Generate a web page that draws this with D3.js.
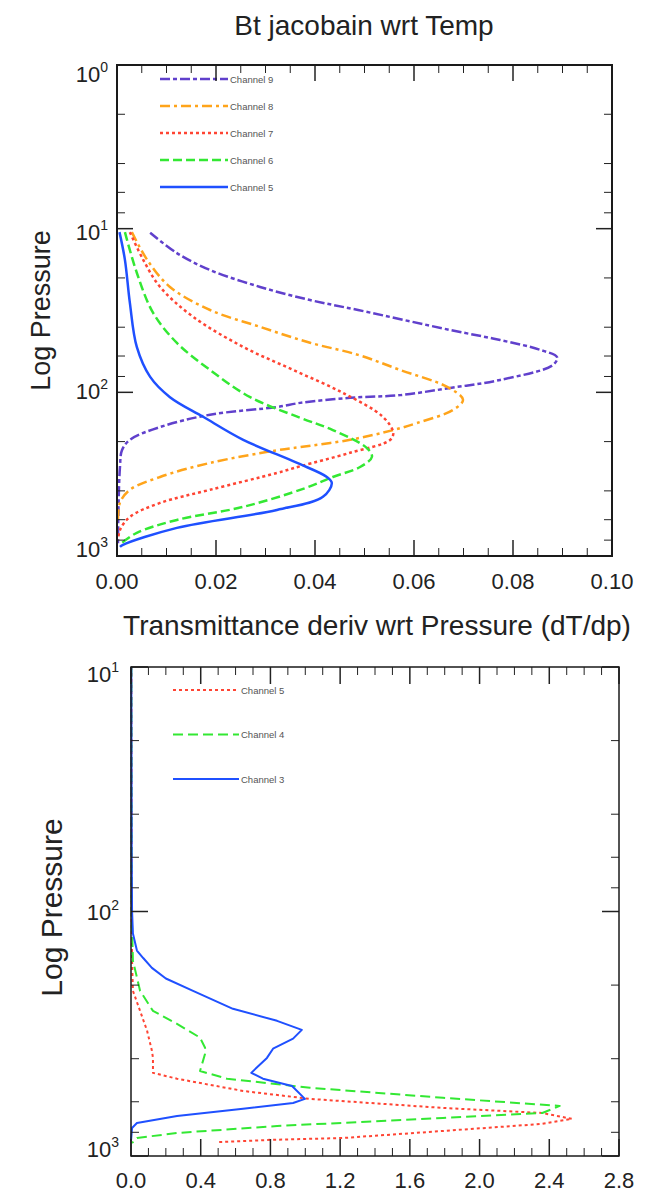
<!DOCTYPE html>
<html>
<head>
<meta charset="utf-8">
<script src="https://cdn.jsdelivr.net/npm/d3@7"></script>
<style>
  html, body { margin: 0; padding: 0; background: #fff; }
  svg { display: block; font-family: "Liberation Sans", Arial, Helvetica, sans-serif; }
</style>
</head>
<body>
<svg id="chart" width="646" height="1192"></svg>
<script>
// ---------- DATA (value, pressure hPa) ----------
const topTitle = "Bt jacobain wrt Temp";
const topXLabel = "Transmittance deriv wrt Pressure (dT/dp)";
const yLabel = "Log Pressure";

const topXTicks = [0, 0.02, 0.04, 0.06, 0.08, 0.10];
const topXTickLabels = ["0.00", "0.02", "0.04", "0.06", "0.08", "0.10"];
const topYTicks = [1, 10, 100, 1000];
const topYExponents = ["0", "1", "2", "3"];

const bottomXTicks = [0, 0.4, 0.8, 1.2, 1.6, 2.0, 2.4, 2.8];
const bottomXTickLabels = ["0.0", "0.4", "0.8", "1.2", "1.6", "2.0", "2.4", "2.8"];
const bottomYTicks = [10, 100, 1000];
const bottomYExponents = ["1", "2", "3"];

const topChannels = ["Channel 9", "Channel 8", "Channel 7", "Channel 6", "Channel 5"];
const bottomChannels = ["Channel 5", "Channel 4", "Channel 3"];

const topCh9 = [[0.0067,10.6],[0.0121,14.1],[0.0188,17.9],[0.0289,22.7],[0.039,27.3],[0.0487,31.4],[0.0673,41.6],[0.0774,47.9],[0.0855,55],[0.0889,61],[0.0881,68],[0.0774,84],[0.0673,94],[0.0572,104],[0.0471,108],[0.037,116],[0.0323,123],[0.0188,137],[0.0087,163],[0.0026,195],[0.001,226],[0.0006,286],[0.0003,500],[0.0002,850]];
const topCh8 = [[0.003,10.5],[0.0061,15.5],[0.0107,22.7],[0.0188,31.4],[0.0289,39.8],[0.039,49.8],[0.0487,59],[0.0572,73],[0.0667,92.7],[0.0699,111],[0.0679,128],[0.0606,154],[0.0558,170],[0.0471,195],[0.037,216],[0.0323,226],[0.0188,270],[0.0087,329],[0.0026,394],[0.0006,472],[0.0002,600]];
const topCh7 = [[0.0026,10.5],[0.0053,15.5],[0.0087,22.7],[0.0154,34.6],[0.0255,52.8],[0.0356,73],[0.0457,101],[0.0537,141],[0.0558,176],[0.0552,195],[0.0471,234],[0.037,283],[0.0323,311],[0.0188,394],[0.0087,474],[0.0026,577],[0.0006,693],[0.0002,797]];
const topCh6 = [[0.0016,10.5],[0.004,18.6],[0.0073,32.7],[0.0121,49.9],[0.0188,73],[0.0269,107],[0.037,143],[0.0436,170],[0.0505,219],[0.0515,248],[0.0491,286],[0.0436,329],[0.038,385],[0.0255,501],[0.0121,602],[0.004,722],[0.001,832]];
const topCh5 = [[0.0005,10.5],[0.0016,15.5],[0.0026,28.4],[0.004,52.8],[0.0067,80.5],[0.0107,107],[0.0174,141],[0.0255,195],[0.0364,270],[0.0424,329],[0.0434,358],[0.0416,435],[0.0323,523],[0.0121,673],[0.0012,855],[0.0006,880]];

const botCh5 = [[0.002,10],[0.004,100],[0.006,159],[0.011,211],[0.052,255],[0.092,307],[0.12,371],[0.126,397],[0.126,457],[0.264,483],[0.643,542],[1.027,584],[1.79,636],[2.36,667],[2.53,705],[2.36,739],[1.79,790],[1.216,844],[0.8,859],[0.5,877]];
const botCh4 = [[0.002,10],[0.004,100],[0.011,159],[0.034,186],[0.052,211],[0.126,255],[0.264,288],[0.396,328],[0.425,361],[0.425,382],[0.396,449],[0.551,483],[1.027,526],[1.79,578],[2.46,624],[2.36,667],[1.79,699],[0.838,754],[0.264,805],[0.034,844],[0.006,885]];
const botCh3 = [[0.002,10],[0.004,60],[0.006,99],[0.011,123],[0.034,144.5],[0.07,155],[0.12,170],[0.2,188],[0.356,211],[0.585,250],[0.838,280],[0.98,305],[0.93,331],[0.815,364],[0.78,397],[0.69,457],[0.757,483],[0.924,517],[0.998,584],[0.93,607],[0.643,641],[0.264,686],[0.034,733],[0.006,768],[0.0,868]];

// ---------- STYLES ----------
const topStyles = [
  {data: topCh9, color: "#6040cc", dash: "10,3,4,3"},
  {data: topCh8, color: "#ffa41a", dash: "10,4,3,4"},
  {data: topCh7, color: "#ff4433", dash: "3,3"},
  {data: topCh6, color: "#33e833", dash: "9,4"},
  {data: topCh5, color: "#1f50ff", dash: null}
];
const botStyles = [
  {data: botCh5, color: "#ff4433", dash: "3,3"},
  {data: botCh4, color: "#33e833", dash: "10,5"},
  {data: botCh3, color: "#1f50ff", dash: null}
];

const svg = d3.select("#chart");

function minorLogTicks(lo, hi) {
  const out = [];
  for (let d = lo; d < hi; d *= 10) {
    [2, 4, 6, 8].forEach(m => out.push(d * m));
  }
  return out;
}

function drawPanel(cfg) {
  const g = svg.append("g");
  const x = d3.scaleLinear().domain(cfg.xDomain).range([cfg.left, cfg.right]);
  const y = d3.scaleLog().domain(cfg.yDomain).range([cfg.top, cfg.bottom]);

  // curves
  const line = d3.line()
    .x(d => x(d[0])).y(d => y(d[1]))
    .curve(cfg.curve);
  cfg.series.forEach(s => {
    g.append("path").datum(s.data)
      .attr("d", line)
      .attr("fill", "none")
      .attr("stroke", s.color)
      .attr("stroke-width", cfg.lineWidth)
      .attr("stroke-dasharray", s.dash)
      .attr("stroke-linejoin", "round");
  });

  // legend
  cfg.series.forEach((s, i) => {
    const ly = cfg.legendY0 + i * cfg.legendStep;
    g.append("line")
      .attr("x1", cfg.legendX0).attr("x2", cfg.legendX1)
      .attr("y1", ly).attr("y2", ly)
      .attr("stroke", s.color).attr("stroke-width", cfg.lineWidth)
      .attr("stroke-dasharray", s.dash);
    g.append("text")
      .attr("x", cfg.legendX1 + 2).attr("y", ly + 3.5)
      .attr("font-size", 9.5).attr("fill", "#555")
      .text(cfg.names[i]);
  });

  // ticks (inward, all four sides)
  const tk = g.append("g").attr("stroke", "#222");
  const xMajor = cfg.xTicks;
  const xMinor = d3.range(cfg.xDomain[0], cfg.xDomain[1] + cfg.xMinorStep / 2, cfg.xMinorStep)
    .filter(v => !xMajor.some(m => Math.abs(m - v) < cfg.xMinorStep / 10));
  xMajor.forEach(v => {
    tk.append("line").attr("x1", x(v)).attr("x2", x(v)).attr("y1", cfg.bottom).attr("y2", cfg.bottom - cfg.majorLen).attr("stroke-width", 1.5);
    tk.append("line").attr("x1", x(v)).attr("x2", x(v)).attr("y1", cfg.top).attr("y2", cfg.top + cfg.majorLen).attr("stroke-width", 1.5);
  });
  xMinor.forEach(v => {
    tk.append("line").attr("x1", x(v)).attr("x2", x(v)).attr("y1", cfg.bottom).attr("y2", cfg.bottom - cfg.minorLen).attr("stroke-width", 1);
    tk.append("line").attr("x1", x(v)).attr("x2", x(v)).attr("y1", cfg.top).attr("y2", cfg.top + cfg.minorLen).attr("stroke-width", 1);
  });
  cfg.yTicks.forEach(v => {
    tk.append("line").attr("y1", y(v)).attr("y2", y(v)).attr("x1", cfg.left).attr("x2", cfg.left + cfg.majorLen).attr("stroke-width", 1.5);
    tk.append("line").attr("y1", y(v)).attr("y2", y(v)).attr("x1", cfg.right).attr("x2", cfg.right - cfg.majorLen).attr("stroke-width", 1.5);
  });
  minorLogTicks(cfg.yDomain[0], cfg.yDomain[1]).forEach(v => {
    tk.append("line").attr("y1", y(v)).attr("y2", y(v)).attr("x1", cfg.left).attr("x2", cfg.left + cfg.minorLen).attr("stroke-width", 1);
    tk.append("line").attr("y1", y(v)).attr("y2", y(v)).attr("x1", cfg.right).attr("x2", cfg.right - cfg.minorLen).attr("stroke-width", 1);
  });

  // frame
  g.append("rect")
    .attr("x", cfg.left).attr("y", cfg.top)
    .attr("width", cfg.right - cfg.left).attr("height", cfg.bottom - cfg.top)
    .attr("fill", "none").attr("stroke", "#1a1a1a").attr("stroke-width", cfg.frameWidth);

  // x tick labels
  xMajor.forEach((v, i) => {
    g.append("text")
      .attr("x", x(v)).attr("y", cfg.bottom + cfg.xLabelOffset)
      .attr("text-anchor", "middle").attr("font-size", 22).attr("fill", "#222")
      .text(cfg.xTickLabels[i]);
  });

  // y tick labels (10^n)
  const yl = y.copy().range([cfg.top + cfg.yLabInset[0], cfg.bottom - cfg.yLabInset[1]]);
  cfg.yTicks.forEach((v, i) => {
    const t = g.append("text")
      .attr("x", cfg.left - cfg.yLabGap).attr("y", yl(v) + 8)
      .attr("text-anchor", "end").attr("font-size", 22).attr("fill", "#222");
    t.append("tspan").text("10");
    t.append("tspan").attr("dy", -10).attr("font-size", 14).text(cfg.yExponents[i]);
  });

  // y axis title
  g.append("text")
    .attr("transform", `translate(${cfg.yTitleX},${(cfg.top + cfg.bottom) / 2 + cfg.yTitleShift}) rotate(-90)`)
    .attr("text-anchor", "middle").attr("font-size", cfg.yTitleSize).attr("fill", "#222")
    .text(yLabel);

  return {x, y};
}

// ---------- TOP PANEL ----------
drawPanel({
  left: 117, right: 612, top: 65, bottom: 556,
  xDomain: [0, 0.1], yDomain: [1, 1000],
  xTicks: topXTicks, xTickLabels: topXTickLabels, xMinorStep: 0.005,
  yTicks: topYTicks, yExponents: topYExponents,
  series: topStyles, names: topChannels,
  curve: d3.curveCatmullRom.alpha(0.5),
  lineWidth: 2.5, frameWidth: 2,
  majorLen: 16, minorLen: 8,
  legendX0: 160, legendX1: 228, legendY0: 79, legendStep: 27,
  xLabelOffset: 33, yLabGap: 9, yLabInset: [9, 7],
  yTitleX: 50, yTitleShift: 0, yTitleSize: 27
});

svg.append("text")
  .attr("x", 364).attr("y", 35)
  .attr("text-anchor", "middle").attr("font-size", 28).attr("fill", "#222")
  .text(topTitle);

svg.append("text")
  .attr("x", 377).attr("y", 635)
  .attr("text-anchor", "middle").attr("font-size", 28).attr("fill", "#222")
  .text(topXLabel);

// ---------- BOTTOM PANEL ----------
drawPanel({
  left: 131, right: 619, top: 667, bottom: 1156,
  xDomain: [0, 2.8], yDomain: [10, 1000],
  xTicks: bottomXTicks, xTickLabels: bottomXTickLabels, xMinorStep: 0.1,
  yTicks: bottomYTicks, yExponents: bottomYExponents,
  series: botStyles, names: bottomChannels,
  curve: d3.curveLinear,
  lineWidth: 2, frameWidth: 1.5,
  majorLen: 17, minorLen: 8,
  legendX0: 173, legendX1: 239, legendY0: 690, legendStep: 44.5,
  xLabelOffset: 32, yLabGap: 12, yLabInset: [7, 7],
  yTitleX: 62, yTitleShift: -4, yTitleSize: 30
});
</script>
</body>
</html>
